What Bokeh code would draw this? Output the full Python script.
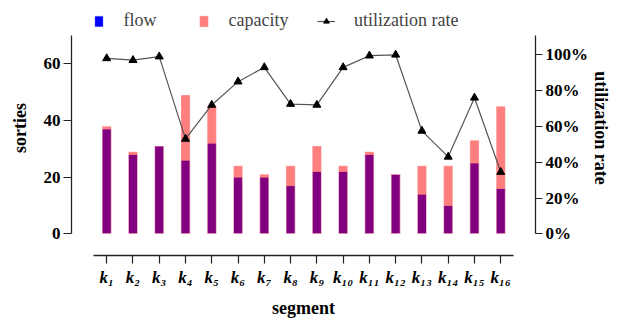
from bokeh.plotting import figure
from bokeh.models import (Range1d, LinearAxis, FixedTicker, NumeralTickFormatter,
                          Legend, LegendItem, ColumnDataSource)
from bokeh.embed import file_html
from bokeh.resources import INLINE

segments = ["k₁", "k₂", "k₃", "k₄", "k₅", "k₆", "k₇", "k₈",
            "k₉", "k₁₀", "k₁₁", "k₁₂", "k₁₃", "k₁₄", "k₁₅", "k₁₆"]
flow = [37, 28, 31, 26, 32, 20, 20, 17, 22, 22, 28, 21, 14, 10, 25, 16]
capacity = [38, 29, 31, 49, 45, 24, 21, 24, 31, 24, 29, 21, 24, 24, 33, 45]
utilization = [0.98, 0.97, 0.99, 0.53, 0.72, 0.85, 0.93, 0.725, 0.72, 0.93,
               0.995, 1.0, 0.575, 0.43, 0.76, 0.345]
sorties_ticks = [0, 20, 40, 60]
rate_ticks = [0, 0.2, 0.4, 0.6, 0.8, 1.0]

xpos = list(range(1, len(segments) + 1))
src = ColumnDataSource(dict(x=xpos, flow=flow, capacity=capacity, util=utilization))

FONT = "Liberation Serif"
AX_COLOR = "#222222"

p = figure(width=630, height=320, output_backend="svg", toolbar_location=None,
           x_range=Range1d(-0.340, 17.323), y_range=Range1d(-7.66, 82.35),
           min_border_left=71, min_border_right=95, min_border_top=0,
           min_border_bottom=65)
p.outline_line_color = None
p.xgrid.visible = False
p.ygrid.visible = False
p.background_fill_color = "white"
p.border_fill_color = "white"

p.extra_y_ranges = {"util": Range1d(-0.1212, 1.3034)}

r_flow = p.vbar(x="x", top="flow", bottom=0, width=0.35, source=src,
                fill_color="#0000ff", line_color="white", line_width=0.8)
r_cap = p.vbar(x="x", top="capacity", bottom=0, width=0.35, source=src,
               fill_color="#ff0000", fill_alpha=0.5, line_color="white", line_alpha=0.4,
               line_width=0.8)
r_line = p.line(x="x", y="util", source=src, y_range_name="util",
                line_color="#555555", line_width=1.2)
r_mark = p.scatter(x="x", y="util", source=src, y_range_name="util",
                   marker="triangle", size=8, fill_color="black", line_color="black")

# x axis
xa = p.xaxis[0]
xa.ticker = FixedTicker(ticks=xpos)
xa.major_label_overrides = {i: s for i, s in zip(xpos, segments)}
xa.bounds = (0.5, len(segments) + 0.5)
xa.axis_label = "segment"
xa.minor_tick_line_color = None
xa.major_tick_out = 8
xa.major_tick_in = 0
xa.major_label_standoff = 4
xa.axis_label_standoff = 8

# left axis
ya = p.yaxis[0]
ya.ticker = FixedTicker(ticks=sorties_ticks)
ya.bounds = (0, 70)
ya.axis_label = "sorties"
ya.minor_tick_line_color = None
ya.major_tick_out = 8
ya.major_tick_in = 0
ya.major_label_standoff = 3
ya.axis_label_standoff = 11

# right axis
ra = LinearAxis(y_range_name="util", ticker=FixedTicker(ticks=rate_ticks),
                formatter=NumeralTickFormatter(format="0%"))
ra.bounds = (0, 1.11)
ra.axis_label = "utilization rate"
ra.minor_tick_line_color = None
ra.major_tick_out = 7
ra.major_tick_in = 0
ra.major_label_standoff = 3
ra.axis_label_standoff = 0
p.add_layout(ra, "right")

for ax in (xa, ya, ra):
    ax.axis_line_color = AX_COLOR
    ax.axis_line_width = 1.3
    ax.major_tick_line_color = AX_COLOR
    ax.major_tick_line_width = 1.2
    ax.major_label_text_font = FONT
    ax.major_label_text_font_size = "17px"
    ax.major_label_text_font_style = "bold"
    ax.major_label_text_color = "black"
    ax.axis_label_text_font = FONT
    ax.axis_label_text_font_size = "18px"
    ax.axis_label_text_font_style = "bold"
    ax.axis_label_text_color = "black"
xa.major_label_text_font_style = "bold italic"

# legends (one per entry so each glyph keeps its own width)
def add_legend(label, renderers, vx, gw, standoff):
    leg = Legend(items=[LegendItem(label=label, renderers=renderers)],
                 location=(vx, 224), orientation="horizontal",
                 border_line_color=None, background_fill_alpha=0,
                 padding=0, margin=0, glyph_width=gw, glyph_height=14,
                 label_standoff=standoff, label_text_font=FONT,
                 label_text_font_size="18px", label_height=20)
    p.add_layout(leg, "center")

add_legend("flow", [r_flow], 21.5, 11, 20)
add_legend("capacity", [r_cap], 126.5, 11, 20)
add_legend("utilization rate", [r_line, r_mark], 246, 18, 19)

open("out.html", "w").write(file_html(p, INLINE))
